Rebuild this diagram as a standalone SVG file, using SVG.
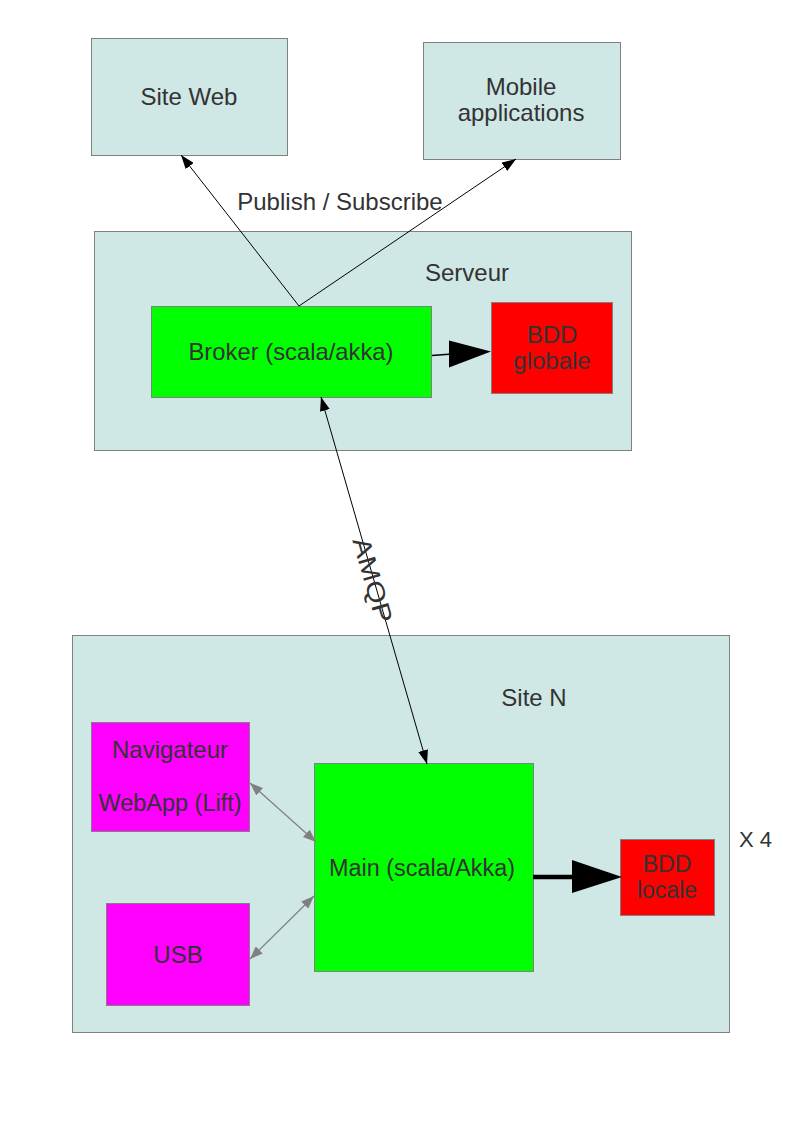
<svg xmlns="http://www.w3.org/2000/svg" width="794" height="1123" viewBox="0 0 794 1123">
<style>
.box{fill:#cfe7e5;stroke:#808080;stroke-width:1}
.green{fill:#00ff00;stroke:#808080;stroke-width:1}
.red{fill:#ff0000;stroke:#808080;stroke-width:1}
.mag{fill:#ff00ff;stroke:#808080;stroke-width:1}
text{font-family:"Liberation Sans",Arial,sans-serif;fill:#333333;font-size:24px}
.c{text-anchor:middle}
.ln{stroke:#000;stroke-width:1;fill:none}
.gl{stroke:#808080;stroke-width:1.2;fill:none}
</style>
<defs>
<marker id="ah" markerUnits="userSpaceOnUse" markerWidth="14" markerHeight="10" refX="14" refY="5" orient="auto-start-reverse" viewBox="0 0 14 10">
<path d="M0,0 L14,5 L0,10 z" fill="#000"/>
</marker>
<marker id="gh" markerUnits="userSpaceOnUse" markerWidth="13" markerHeight="10" refX="13" refY="5" orient="auto-start-reverse" viewBox="0 0 13 10">
<path d="M0,0 L13,5 L0,10 z" fill="#808080"/>
</marker>
</defs>
<rect width="794" height="1123" fill="#fff"/>

<g id="serveur">
<rect class="box" x="94.5" y="231.5" width="537" height="219"/>
<text x="467" y="281" class="c">Serveur</text>
</g>
<g id="siteN">
<rect class="box" x="72.5" y="635.5" width="657" height="397"/>
<text x="534" y="706" class="c">Site N</text>
</g>
<g id="siteweb">
<rect class="box" x="91.5" y="38.5" width="196" height="117"/>
<text x="189" y="105" class="c">Site Web</text>
</g>
<g id="mobile">
<rect class="box" x="423.5" y="42.5" width="197" height="117"/>
<text x="521" y="95" class="c">Mobile</text>
<text x="521" y="121" class="c">applications</text>
</g>
<g id="broker">
<rect class="green" x="151.5" y="306.5" width="280" height="91"/>
<text x="291" y="360" class="c" textLength="205" lengthAdjust="spacingAndGlyphs">Broker (scala/akka)</text>
</g>
<g id="bddglobale">
<rect class="red" x="491.5" y="302.5" width="121" height="91"/>
<text x="552" y="343" class="c">BDD</text>
<text x="552" y="369" class="c">globale</text>
</g>
<g id="navigateur">
<rect class="mag" x="91.5" y="722.5" width="158" height="109"/>
<text x="170" y="758" class="c">Navigateur</text>
<text x="170" y="811" class="c" style="font-size:23.5px">WebApp (Lift)</text>
</g>
<g id="usb">
<rect class="mag" x="106.5" y="903.5" width="143" height="102"/>
<text x="178" y="963" class="c">USB</text>
</g>
<g id="main">
<rect class="green" x="314.5" y="763.5" width="219" height="208"/>
<text x="422" y="876" class="c" style="font-size:23px" textLength="186" lengthAdjust="spacingAndGlyphs">Main (scala/Akka)</text>
</g>
<g id="bddlocale">
<rect class="red" x="620.5" y="839.5" width="94" height="76"/>
<text x="667" y="872" class="c" style="font-size:23px">BDD</text>
<text x="667" y="898" class="c" style="font-size:23px">locale</text>
</g>
<g id="x4">
<text x="739" y="847" style="font-size:22px">X 4</text>
</g>

<g id="connectors">
<line class="ln" x1="299" y1="306" x2="181" y2="155" marker-end="url(#ah)"/>
<line class="ln" x1="299" y1="306" x2="516" y2="159" marker-end="url(#ah)"/>
<text x="340" y="210" class="c">Publish / Subscribe</text>
<line class="ln" x1="321" y1="397" x2="427" y2="764" marker-start="url(#ah)" marker-end="url(#ah)"/>
<text transform="translate(373,580) rotate(74)" x="0" y="9" class="c" style="font-size:25px" textLength="88" lengthAdjust="spacingAndGlyphs">AMQP</text>
<line x1="432" y1="355.5" x2="452" y2="354" stroke="#000" stroke-width="1.5"/>
<polygon points="449,340.5 491,351.5 449,367.5" fill="#000"/>
<line x1="533" y1="877" x2="575" y2="877" stroke="#000" stroke-width="4.5"/>
<polygon points="572,860 622,877 572,893" fill="#000"/>
<line class="gl" x1="250" y1="783" x2="316" y2="842" marker-start="url(#gh)" marker-end="url(#gh)"/>
<line class="gl" x1="250" y1="959" x2="314" y2="896" marker-start="url(#gh)" marker-end="url(#gh)"/>
</g>
</svg>
